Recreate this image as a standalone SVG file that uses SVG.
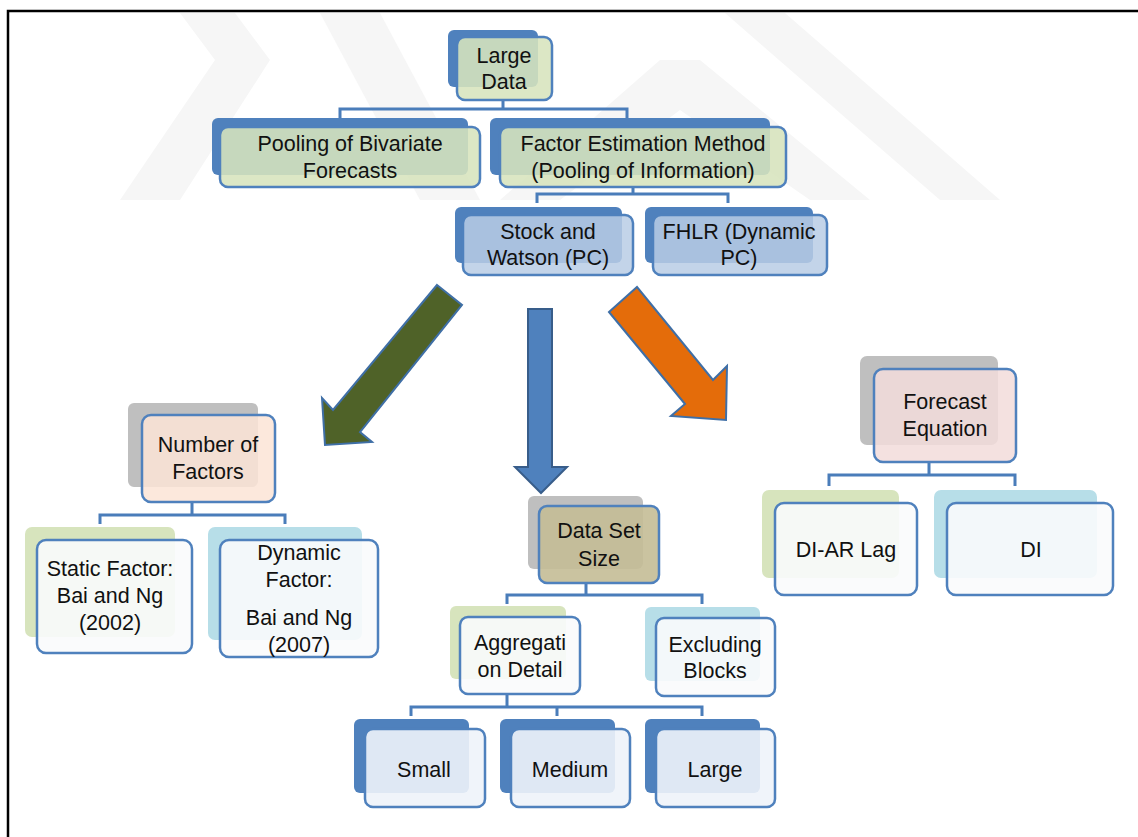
<svg xmlns="http://www.w3.org/2000/svg" width="1138" height="837" viewBox="0 0 1138 837">
<style>
  text { font-family: "Liberation Sans", Arial, sans-serif; font-size: 21.5px; fill: #111; text-anchor: middle; }
  .wm { fill: #F6F6F6; }
  .front { stroke: #4F81BD; stroke-width: 2.5; }
  .backblue { fill: #4F81BD; }
  .backgrey { fill: #BFBFBF; }
  .backgreen { fill: #D7E4BD; }
  .backcyan { fill: #B7DEE8; }
  .fgreen { fill: #D7E4BD; fill-opacity: 0.88; }
  .fblue { fill: #B9CDE5; fill-opacity: 0.85; }
  .fwhite { fill: #FAFBFC; fill-opacity: 0.9; }
  .fpale { fill: #EEF3FA; fill-opacity: 0.9; }
  .conn { fill: none; stroke: #4A7DBA; stroke-width: 3; }
</style>
<rect width="1138" height="837" fill="#FFFFFF"/>
<g id="watermark">
  <polygon class="wm" points="180,13 235,13 270,60 180,200 120,200 215,60"/>
  <polygon class="wm" points="320,13 380,13 480,200 420,200"/>
  <polygon class="wm" points="725,13 785,13 1000,200 940,200"/>
  <polygon class="wm" points="660,60 700,60 870,200 810,200 680,110 560,200 500,200"/>
</g>
<g id="frame">
  <path d="M8,837 V11 H1138" fill="none" stroke="#000" stroke-width="2.5"/>
</g>
<g id="connectors">
  <path class="conn" d="M503,100 V109 M340,118 V109 H627 V118"/>
  <path class="conn" d="M633,187 V194 M537,203 V194 H728 V203"/>
  <path class="conn" d="M192,502 V515 M100,524 V515 H285 V524"/>
  <path class="conn" d="M586,583 V595 M507,604 V595 H702 V604"/>
  <path class="conn" d="M507,694 V707 M411,716 V707 H702 V716 M557,707 V716"/>
  <path class="conn" d="M929,462 V475 M829,486 V475 H1015 V486"/>
</g>
<g id="arrows">
  <polygon points="437,285 462,305 360,432 372,442 325,445 322,398 333,410" fill="#4F6228" stroke="#3F6FA6" stroke-width="2" stroke-linejoin="miter"/>
  <polygon points="528,309 552,309 552,467 567,467 541,493 515,467 528,467" fill="#4F81BD" stroke="#385D8A" stroke-width="2"/>
  <polygon points="609,312 637,287 713,380 727,366 726,420 671,416 685,404" fill="#E46C0A" stroke="#3F6FA6" stroke-width="2"/>
</g>
<g id="large-data">
  <rect class="backblue" x="448" y="30" width="90" height="57" rx="6"/>
  <rect class="front fgreen" x="457" y="37" width="95" height="63" rx="8"/>
  <text x="504" y="63">Large</text>
  <text x="504" y="89">Data</text>
</g>
<g id="pooling">
  <rect class="backblue" x="212" y="118" width="256" height="57" rx="6"/>
  <rect class="front fgreen" x="220" y="127" width="260" height="60" rx="8"/>
  <text x="350" y="151">Pooling of Bivariate</text>
  <text x="350" y="178">Forecasts</text>
</g>
<g id="factor-estimation">
  <rect class="backblue" x="490" y="118" width="280" height="57" rx="6"/>
  <rect class="front fgreen" x="500" y="127" width="286" height="60" rx="8"/>
  <text x="643" y="151">Factor Estimation Method</text>
  <text x="643" y="178">(Pooling of Information)</text>
</g>
<g id="stock-watson">
  <rect class="backblue" x="455" y="207" width="167" height="56" rx="6"/>
  <rect class="front fblue" x="463" y="215" width="170" height="60" rx="8"/>
  <text x="548" y="239">Stock and</text>
  <text x="548" y="265">Watson (PC)</text>
</g>
<g id="fhlr">
  <rect class="backblue" x="645" y="207" width="168" height="56" rx="6"/>
  <rect class="front fblue" x="653" y="215" width="174" height="60" rx="8"/>
  <text x="739" y="239">FHLR (Dynamic</text>
  <text x="739" y="265">PC)</text>
</g>
<g id="number-of-factors">
  <rect class="backgrey" x="128" y="403" width="130" height="84" rx="6"/>
  <rect class="front" x="142" y="415" width="133" height="87" rx="9" fill="#FBE4D6" fill-opacity="0.85"/>
  <text x="208" y="452">Number of</text>
  <text x="208" y="479">Factors</text>
</g>
<g id="static-factor">
  <rect class="backgreen" x="25" y="527" width="150" height="110" rx="7"/>
  <rect class="front fwhite" x="37" y="540" width="155" height="113" rx="9"/>
  <text x="110" y="576">Static Factor:</text>
  <text x="110" y="603">Bai and Ng</text>
  <text x="110" y="630">(2002)</text>
</g>
<g id="dynamic-factor">
  <rect class="backcyan" x="208" y="527" width="154" height="113" rx="7"/>
  <rect class="front fwhite" x="220" y="540" width="158" height="117" rx="9"/>
  <text x="299" y="560">Dynamic</text>
  <text x="299" y="587">Factor:</text>
  <text x="299" y="625">Bai and Ng</text>
  <text x="299" y="652">(2007)</text>
</g>
<g id="data-set-size">
  <rect class="backgrey" x="528" y="496" width="115" height="73" rx="6"/>
  <rect class="front" x="539" y="506" width="120" height="77" rx="8" fill="#C4BC96" fill-opacity="0.9"/>
  <text x="599" y="538">Data Set</text>
  <text x="599" y="566">Size</text>
</g>
<g id="aggregation-detail">
  <rect class="backgreen" x="450" y="606" width="116" height="73" rx="6"/>
  <rect class="front fwhite" x="460" y="617" width="120" height="77" rx="8"/>
  <text x="520" y="650">Aggregati</text>
  <text x="520" y="677">on Detail</text>
</g>
<g id="excluding-blocks">
  <rect class="backcyan" x="645" y="607" width="115" height="74" rx="6"/>
  <rect class="front fwhite" x="656" y="618" width="119" height="78" rx="8"/>
  <text x="715" y="652">Excluding</text>
  <text x="715" y="678">Blocks</text>
</g>
<g id="small">
  <rect class="backblue" x="354" y="719" width="115" height="74" rx="6"/>
  <rect class="front fpale" x="365" y="729" width="120" height="78" rx="8"/>
  <text x="424" y="777">Small</text>
</g>
<g id="medium">
  <rect class="backblue" x="500" y="719" width="115" height="74" rx="6"/>
  <rect class="front fpale" x="511" y="729" width="119" height="78" rx="8"/>
  <text x="570" y="777">Medium</text>
</g>
<g id="large">
  <rect class="backblue" x="645" y="719" width="115" height="74" rx="6"/>
  <rect class="front fpale" x="656" y="729" width="119" height="78" rx="8"/>
  <text x="715" y="777">Large</text>
</g>
<g id="forecast-equation">
  <rect class="backgrey" x="860" y="356" width="138" height="89" rx="7"/>
  <rect class="front" x="874" y="369" width="142" height="93" rx="9" fill="#F2DCDB" fill-opacity="0.85"/>
  <text x="945" y="409">Forecast</text>
  <text x="945" y="436">Equation</text>
</g>
<g id="di-ar-lag">
  <rect class="backgreen" x="762" y="490" width="137" height="88" rx="7"/>
  <rect class="front fwhite" x="775" y="503" width="142" height="92" rx="9"/>
  <text x="846" y="557">DI-AR Lag</text>
</g>
<g id="di">
  <rect class="backcyan" x="934" y="490" width="163" height="88" rx="7"/>
  <rect class="front fwhite" x="947" y="503" width="166" height="92" rx="9"/>
  <text x="1031" y="557">DI</text>
</g>
</svg>
